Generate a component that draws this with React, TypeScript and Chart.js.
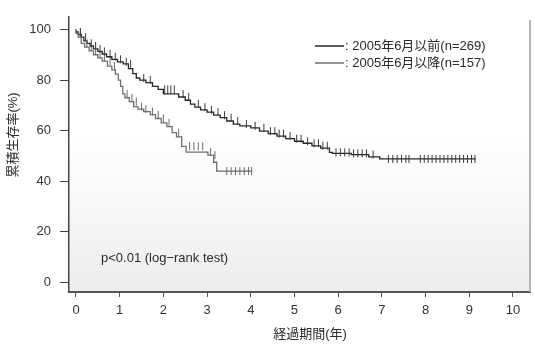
import React, { useEffect, useRef } from 'react';
import { Chart, registerables } from 'chart.js';

Chart.register(...registerables);

const xTicks = [0, 1, 2, 3, 4, 5, 6, 7, 8, 9, 10];
const yTicks = [0, 20, 40, 60, 80, 100];

const beforeTimes = [0, 0.05, 0.12, 0.18, 0.25, 0.32, 0.4, 0.5, 0.6, 0.7, 0.82, 0.95, 1.08, 1.2, 1.3, 1.38, 1.46, 1.6, 1.75, 1.88, 2.0, 2.35, 2.5, 2.62, 2.72, 2.85, 3.0, 3.15, 3.3, 3.45, 3.6, 3.75, 4.0, 4.2, 4.4, 4.6, 4.8, 5.0, 5.2, 5.4, 5.6, 5.8, 5.87, 6.3, 6.7, 6.95, 7.1];
const beforeSurv = [100, 99, 98, 97, 95.5, 94.5, 93.5, 92.3, 91.3, 90.3, 89.2, 88.2, 87.2, 86.4, 84.5, 82.5, 80.8, 80, 79, 77.5, 76.3, 74.5, 73.3, 72, 70.5, 69.3, 68.2, 67.3, 66.1, 65.1, 63.8, 62.6, 61.9, 61.1, 59.8, 58.8, 57.8, 56.8, 55.8, 55, 54, 53.1, 51.4, 51, 50.5, 49.6, 48.8];
const beforeEnd = 9.15;
const beforeCensor = [0.1, 0.22, 0.35, 0.45, 0.55, 0.65, 0.78, 0.9, 1.02, 1.15, 1.25, 1.55, 1.7, 2.03, 2.1, 2.17, 2.25, 2.45, 2.58, 2.8, 2.95, 3.1, 3.25, 3.4, 3.55, 3.7, 3.9, 4.1, 4.3, 4.45, 4.55, 4.65, 4.75, 4.9, 5.05, 5.15, 5.3, 5.45, 5.55, 5.65, 5.75, 5.95, 6.05, 6.15, 6.25, 6.35, 6.45, 6.55, 6.65, 6.8, 7.15, 7.25, 7.35, 7.45, 7.55, 7.62, 7.88, 7.97, 8.06, 8.15, 8.24, 8.33, 8.42, 8.51, 8.6, 8.69, 8.78, 8.87, 8.96, 9.05, 9.13];

const afterTimes = [0, 0.05, 0.12, 0.2, 0.3, 0.4, 0.5, 0.6, 0.72, 0.82, 0.9, 0.97, 1.02, 1.07, 1.12, 1.22, 1.32, 1.42, 1.55, 1.7, 1.82, 1.95, 2.08, 2.2, 2.3, 2.42, 2.52, 3.02, 3.15, 3.22, 3.28];
const afterSurv = [100, 98.5, 97, 94.5, 93, 91.5, 90, 88.8, 87.5, 85.5, 84, 82.3, 80, 77.5, 74.5, 73, 71.5, 69.5, 68.5, 67.5, 66.3, 64.8, 63.1, 61.6, 59.2, 57.5, 53.8, 51.5, 50.3, 47.5, 44];
const afterEnd = 4.03;
const afterCensor = [0.1, 0.25, 0.35, 0.45, 0.55, 0.65, 0.78, 0.88, 1.17, 1.28, 1.38, 1.5, 1.6, 1.75, 1.88, 2.0, 2.13, 2.35, 2.6, 2.7, 2.8, 2.9, 3.08, 3.18, 3.45, 3.55, 3.65, 3.75, 3.85, 3.95, 4.02];

const legendLabels = ['2005年6月以前(n=269)', '2005年6月以降(n=157)'];
const pText = 'p<0.01 (log−rank test)';
const xTitle = '経過期間(年)';
const yTitle = '累積生存率(%)';

const FONT = "'Liberation Sans', 'Noto Sans CJK JP', sans-serif";
const C1 = '#262626';
const C2 = '#6e6e6e';

function stepPoints(times: number[], surv: number[], end: number) {
  const pts = times.map((t, i) => ({ x: t, y: surv[i] }));
  pts.push({ x: end, y: surv[surv.length - 1] });
  return pts;
}

function survAt(times: number[], surv: number[], t: number) {
  let v = surv[0];
  for (let i = 0; i < times.length; i++) {
    if (times[i] <= t) v = surv[i];
  }
  return v;
}

function censorPoints(times: number[], surv: number[], cens: number[]) {
  return cens.map((t) => ({ x: t, y: survAt(times, surv, t) }));
}

const annotations = {
  id: 'annotations',
  beforeDraw(chart: any) {
    const { ctx, chartArea: a } = chart;
    ctx.save();
    const g = ctx.createLinearGradient(0, a.top + 120, 0, a.bottom);
    g.addColorStop(0, 'rgba(0,0,0,0)');
    g.addColorStop(1, 'rgba(0,0,0,0.07)');
    ctx.fillStyle = g;
    ctx.fillRect(a.left, a.top, a.right - a.left, a.bottom - a.top);
    ctx.restore();
  },
  afterDraw(chart: any) {
    const { ctx, chartArea: a } = chart;
    ctx.save();
    ctx.fillStyle = '#2a2a2a';
    ctx.font = `13px ${FONT}`;
    ctx.save();
    ctx.translate(13, 135);
    ctx.rotate(-Math.PI / 2);
    ctx.textAlign = 'center';
    ctx.textBaseline = 'middle';
    ctx.fillText(yTitle, 0, 0);
    ctx.restore();
    ctx.textAlign = 'center';
    ctx.textBaseline = 'middle';
    ctx.fillText(xTitle, 310, 334);
    const rows = [
      { y: 46, color: C1 },
      { y: 63, color: C2 },
    ];
    rows.forEach((r, i) => {
      ctx.strokeStyle = r.color;
      ctx.lineWidth = 1.5;
      ctx.beginPath();
      ctx.moveTo(315, r.y);
      ctx.lineTo(344, r.y);
      ctx.stroke();
      ctx.fillStyle = '#2a2a2a';
      ctx.textAlign = 'left';
      ctx.fillText(': ' + legendLabels[i], 345, r.y);
    });
    ctx.textAlign = 'left';
    ctx.fillText(pText, 101, 258);
    ctx.strokeStyle = '#b5b5b5';
    ctx.lineWidth = 2;
    ctx.beginPath();
    ctx.moveTo(a.right, 20);
    ctx.lineTo(a.right, a.bottom);
    ctx.stroke();
    ctx.restore();
  },
};

export default function App() {
  const ref = useRef<HTMLCanvasElement | null>(null);
  useEffect(() => {
    if (!ref.current) return;
    const chart = new Chart(ref.current, {
      type: 'scatter',
      data: {
        datasets: [
          {
            label: legendLabels[0],
            data: stepPoints(beforeTimes, beforeSurv, beforeEnd),
            showLine: true,
            stepped: 'after',
            borderColor: C1,
            borderWidth: 1.3,
            pointRadius: 0,
            order: 2,
          },
          {
            label: legendLabels[1],
            data: stepPoints(afterTimes, afterSurv, afterEnd),
            showLine: true,
            stepped: 'after',
            borderColor: C2,
            borderWidth: 1.3,
            pointRadius: 0,
            order: 1,
          },
          {
            label: 'censor1',
            data: censorPoints(beforeTimes, beforeSurv, beforeCensor),
            showLine: false,
            pointStyle: 'line',
            rotation: 90,
            pointRadius: 4,
            borderColor: '#3a3a3a',
            backgroundColor: '#3a3a3a',
            pointBorderWidth: 1,
          },
          {
            label: 'censor2',
            data: censorPoints(afterTimes, afterSurv, afterCensor),
            showLine: false,
            pointStyle: 'line',
            rotation: 90,
            pointRadius: 4,
            borderColor: '#6a6a6a',
            backgroundColor: '#6a6a6a',
            pointBorderWidth: 1,
          },
        ] as any,
      },
      options: {
        animation: false,
        responsive: false,
        devicePixelRatio: 1,
        layout: { padding: { top: 8, right: 5, left: 0, bottom: 0 } },
        plugins: { legend: { display: false }, tooltip: { enabled: false } },
        scales: {
          x: {
            type: 'linear',
            min: -0.16,
            max: 10.39,
            afterBuildTicks: (s: any) => {
              s.ticks = xTicks.map((v) => ({ value: v }));
            },
            afterFit: (s: any) => {
              s.height = 52;
            },
            grid: { drawOnChartArea: false, drawTicks: true, tickLength: 5, color: '#555', lineWidth: 1 },
            border: { display: true, color: '#555', width: 2 },
            ticks: { color: '#333', font: { size: 13, family: FONT }, padding: 6, autoSkip: false, maxRotation: 0 },
          },
          y: {
            type: 'linear',
            min: -3.8,
            max: 105,
            afterBuildTicks: (s: any) => {
              s.ticks = yTicks.map((v) => ({ value: v }));
            },
            afterFit: (s: any) => {
              s.width = 69;
            },
            grid: { drawOnChartArea: false, drawTicks: true, tickLength: 9, color: '#444', lineWidth: 1 },
            border: { display: true, color: '#444', width: 1.5 },
            ticks: { color: '#333', font: { size: 13, family: FONT }, padding: 9 },
          },
        },
      },
      plugins: [annotations],
    });
    return () => chart.destroy();
  }, []);
  return (
    <div style={{ position: 'fixed', left: 0, top: 0, width: 535, height: 344, background: '#fff' }}>
      <canvas ref={ref} width={535} height={344} style={{ display: 'block' }} />
    </div>
  );
}
